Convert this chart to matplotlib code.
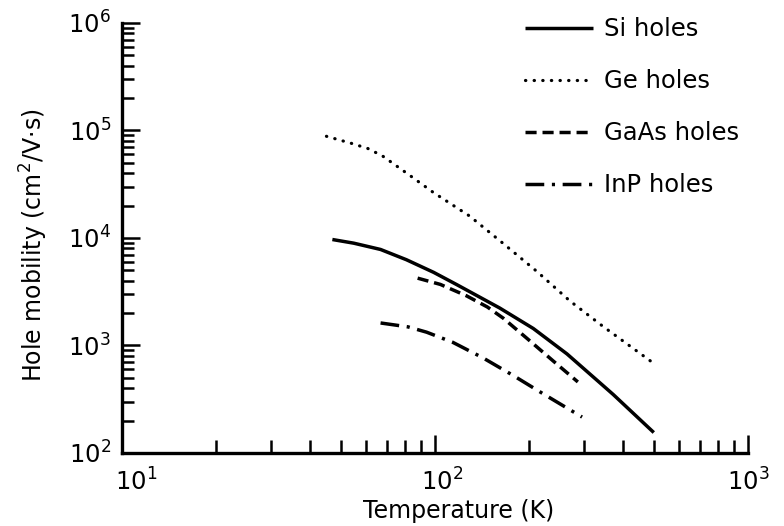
import matplotlib
matplotlib.use("Agg")
import matplotlib.pyplot as plt
from matplotlib.ticker import LogLocator, NullFormatter, FixedLocator
from matplotlib.transforms import ScaledTranslation

# Hole mobility versus temperature (cm^2/V.s against K)
si_temp = [47, 55, 67, 81, 99, 117, 161, 206, 264, 332, 371, 500]
si_mu = [9680, 8950, 7820, 6280, 4790, 3700, 2230, 1440, 835, 465, 350, 155]

ge_temp = [45, 54, 61, 68, 83, 99, 129, 165, 212, 270, 344, 493]
ge_mu = [88300, 76000, 68000, 57900, 38300, 26400, 16000, 8910, 4860, 2590,
         1506, 702]

gaas_temp = [88, 104, 126, 147, 165, 197, 238, 286]
gaas_mu = [4230, 3700, 2900, 2280, 1800, 1160, 722, 458]

inp_temp = [67, 82, 94, 114, 142, 177, 221, 295]
inp_mu = [1620, 1490, 1330, 1070, 770, 530, 357, 216]

series_labels = ["Si holes", "Ge holes", "GaAs holes", "InP holes"]
x_ticks = [10, 100, 1000]
y_ticks = [1e2, 1e3, 1e4, 1e5, 1e6]

plt.rcParams["font.family"] = ["DejaVu Sans"]
plt.rcParams["mathtext.fontset"] = "dejavusans"

fig = plt.figure(figsize=(7.84, 5.26), dpi=100)
ax = fig.add_axes([0.1556, 0.1388, 0.7985, 0.8175])
ax.set_xscale("log")
ax.set_yscale("log")
ax.set_xlim(10, 1000)
ax.set_ylim(1e2, 1e6)

lw = 2.5
ax.plot(si_temp, si_mu, color="black", lw=lw, solid_capstyle="butt",
        solid_joinstyle="round", label=series_labels[0])
ax.plot(ge_temp, ge_mu, color="black", lw=2.3, linestyle=(0, (0.1, 2.6)),
        dash_capstyle="round", label=series_labels[1])
ax.plot(gaas_temp, gaas_mu, color="black", lw=lw, linestyle=(0, (3.2, 1.7)),
        label=series_labels[2])
ax.plot(inp_temp, inp_mu, color="black", lw=lw,
        linestyle=(0, (5.4, 2.2, 0.9, 2.2)), label=series_labels[3])

for side in ("top", "right"):
    ax.spines[side].set_visible(False)
for side in ("left", "bottom"):
    ax.spines[side].set_linewidth(2.4)

ax.xaxis.set_major_locator(FixedLocator(x_ticks))
ax.yaxis.set_major_locator(FixedLocator(y_ticks))
ax.xaxis.set_minor_locator(LogLocator(base=10, subs=range(2, 10)))
ax.yaxis.set_minor_locator(LogLocator(base=10, subs=range(2, 10)))
ax.xaxis.set_minor_formatter(NullFormatter())
ax.yaxis.set_minor_formatter(NullFormatter())

ax.tick_params(axis="x", which="major", direction="in", length=13, width=1.8,
               pad=11, labelsize=17.5)
ax.tick_params(axis="x", which="minor", direction="in", length=9.5, width=1.8)
ax.tick_params(axis="y", which="major", direction="in", length=13, width=1.8,
               pad=8, labelsize=17.5)
ax.tick_params(axis="y", which="minor", direction="in", length=8.5, width=1.8)

# nudge the x tick labels a little to the right
x_label_shift = [14, 7, 0]
for lab, dx in zip(ax.get_xticklabels(), x_label_shift):
    lab.set_transform(lab.get_transform()
                      + ScaledTranslation(dx / 100, 0, fig.dpi_scale_trans))

ax.set_xlabel("Temperature (K)", fontsize=17, va="center")
ax.xaxis.set_label_coords(0.538, -0.135)
ax.set_ylabel("Hole mobility (cm$^{2}$/V\u00b7s)", fontsize=17, va="center")
ax.yaxis.set_label_coords(-0.1406, 0.484)

ax.legend(loc="upper left", bbox_to_anchor=(0.6696, 0.967),
          bbox_transform=fig.transFigure, frameon=False, fontsize=17.5,
          handlelength=2.8, handletextpad=0.45, labelspacing=1.15,
          borderpad=0, borderaxespad=0)

fig.savefig("out.png", dpi=100, facecolor="white")
